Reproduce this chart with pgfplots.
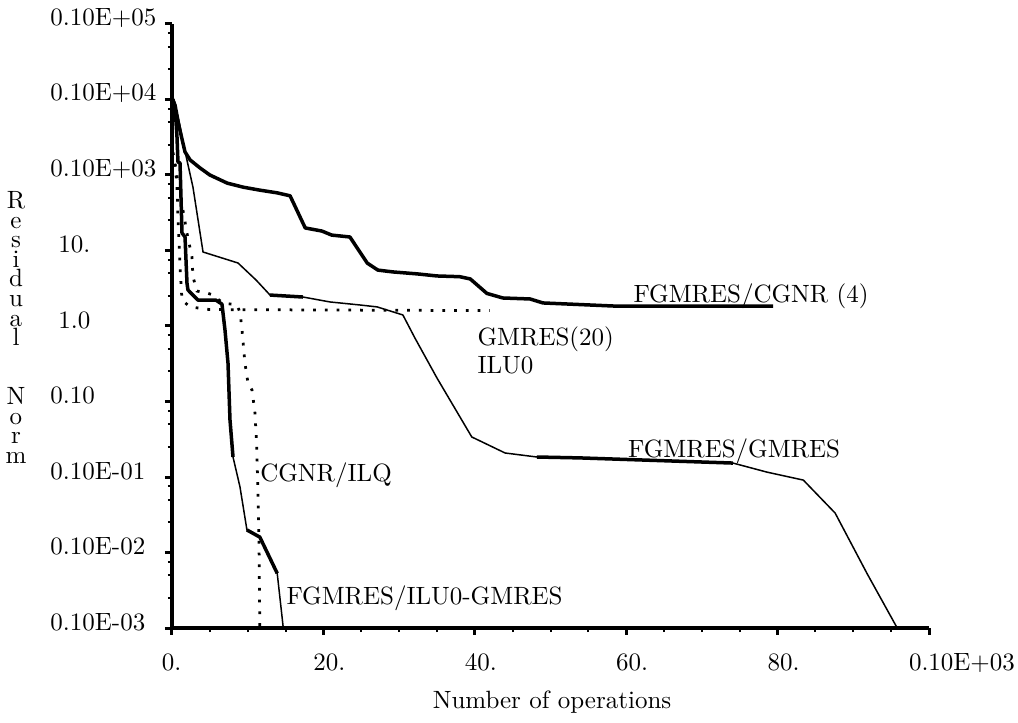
\documentclass[border=0pt]{standalone}
\usepackage{pgfplots}
\pgfplotsset{compat=1.18}
\pgfplotstableread{
x y
0.1 1000
1.72 202
2.4 158
3.7 124
5.0 100
7.3 78
9.4 69
11.6 63
13.9 58
15.6 53
17.6 19.9
19.8 18.1
21.1 16.0
23.5 15.1
25.8 6.8
27.2 5.5
29.2 5.2
32.4 4.9
35.0 4.6
38.0 4.5
39.4 4.2
41.6 2.7
43.7 2.35
47.3 2.28
49.0 2.02
58.3 1.84
79.4 1.84
}\cgnrfour
\pgfplotstableread{
x y
0.1 200
0.4 144
0.66 69
0.79 28
1.06 6.0
1.32 2.2
2.38 1.79
5.0 1.65
42.0 1.6
}\gmresilu
\pgfplotstableread{
x y
0.1 200
0.5 120
1.98 17
2.64 8.2
2.77 4.5
3.3 2.9
4.6 2.74
5.4 2.58
6.7 2.02
8.6 1.9
9.0 1.49
9.25 0.885
9.64 0.32
10.04 0.176
10.57 0.142
10.96 0.0705
11.2 0.025
11.36 0.0054
11.5 0.0012
11.6 0.0001
}\cgnrilq
\pgfplotstableread{
x y
0.1 1000
0.4 796
0.66 318
0.79 149
1.06 144
1.32 17.1
1.72 15.1
1.98 3.7
2.11 3.0
3.43 2.2
5.8 2.2
6.6 1.95
7.0 0.885
7.4 0.32
7.66 0.057
8.06 0.0184
8.98 0.0074
9.9 0.00199
11.6 0.0016
13.9 0.00053
14.7 0.0001
}\iluzero
\pgfplotstableread{
x y
0.1 1000
0.4 796
0.66 318
0.79 149
1.06 144
1.32 17.1
1.72 15.1
1.98 3.7
2.11 3.0
3.43 2.2
5.8 2.2
6.6 1.95
7.0 0.885
7.4 0.32
7.66 0.057
8.06 0.0184
}\iluzeroA
\pgfplotstableread{
x y
9.9 0.00199
11.6 0.0016
13.9 0.00053
}\iluzeroB
\pgfplotstableread{
x y
0.09 1090
0.53 846
1.59 235
2.77 69
4.10 9.55
8.72 6.83
11.1 4.07
12.95 2.57
17.3 2.42
20.9 2.08
24.8 1.90
27.1 1.79
30.5 1.40
32.1 0.69
35.0 0.205
39.6 0.0339
44.0 0.0208
48.2 0.0184
53.9 0.0179
74.1 0.0153
78.6 0.0116
83.4 0.0091
87.6 0.00333
91.8 0.00053
95.8 0.0001
}\fgmres
\pgfplotstableread{
x y
12.95 2.57
17.3 2.42
}\fgmresA
\pgfplotstableread{
x y
48.2 0.0184
53.9 0.0179
74.1 0.0153
}\fgmresB
\begin{document}
\begin{tikzpicture}
\begin{axis}[
  at={(0,0)}, anchor=south west,
  scale only axis, width=302.8pt, height=241.6pt,
  ymode=log, xmin=0, xmax=100, ymin=1e-4, ymax=1e4,
  axis x line=bottom, axis y line=left,
  axis line style={line width=1.4pt, -},
  xtick={0,20,40,60,80,100},
  minor xtick={5,10,15,25,30,35,45,50,55,65,70,75,85,90,95},
  xticklabels={\makebox[0pt][l]{\hspace*{-4pt}0.},
               \makebox[0pt][l]{\hspace*{-4pt}20.},
               \makebox[0pt][l]{\hspace*{-4pt}40.},
               \makebox[0pt][l]{\hspace*{-4pt}60.},
               \makebox[0pt][l]{\hspace*{-4pt}80.},
               \makebox[0pt][l]{\hspace*{-8pt}0.10E+03}},
  ytick={1e-4,1e-3,1e-2,1e-1,1,10,100,1000,10000},
  minor ytick={2.5e-4,5e-4,7.5e-4,2.5e-3,5e-3,7.5e-3,2.5e-2,5e-2,7.5e-2,
               0.25,0.5,0.75,2.5,5,7.5,25,50,75,250,500,750,2500,5000,7500},
  yticklabels={0.10E-03,0.10E-02,0.10E-01,0.10,\hspace*{3.2pt}1.0,\hspace*{3.2pt}10.,0.10E+03,0.10E+04,0.10E+05},
  xticklabel style={anchor=north, inner sep=0pt, yshift=-7.4pt},
  yticklabel style={anchor=west, inner sep=0pt, xshift=-46pt, yshift=2.4pt},
  tick align=outside,
  major tick length=2.8pt, minor tick length=1.6pt,
  every major tick/.append style={line width=1.2pt, black},
  every minor tick/.append style={line width=0.8pt, black},
  clip=false,
]
% FGMRES/CGNR (4)
\addplot[line width=1.4pt, black, line join=round] table {\cgnrfour};
% GMRES(20) ILU0
\addplot[line width=1.1pt, black, dash pattern=on 1.1pt off 3.6pt] table {\gmresilu};
% CGNR/ILQ
\addplot[line width=1.1pt, black, dash pattern=on 1.1pt off 3.6pt] table {\cgnrilq};
% FGMRES/ILU0-GMRES
\addplot[line width=0.6pt, black] table {\iluzero};
\addplot[line width=1.4pt, black, line join=round] table {\iluzeroA};
\addplot[line width=1.4pt, black, line join=round] table {\iluzeroB};
% FGMRES/GMRES
\addplot[line width=0.6pt, black] table {\fgmres};
\addplot[line width=1.4pt, black] table {\fgmresA};
\addplot[line width=1.4pt, black] table {\fgmresB};

\node[anchor=base west, inner sep=0pt] at (axis cs:60.9,2.02) {FGMRES/CGNR (4)};
\node[anchor=base west, inner sep=0pt] at (axis cs:40.3,0.56) {GMRES(20)};
\node[anchor=base west, inner sep=0pt] at (axis cs:40.3,0.238) {ILU0};
\node[anchor=base west, inner sep=0pt] at (axis cs:60.2,0.0184) {FGMRES/GMRES};
\node[anchor=base west, inner sep=0pt] at (axis cs:11.6,0.0086) {CGNR/ILQ};
\node[anchor=base west, inner sep=0pt] at (axis cs:15.06,0.000202) {FGMRES/ILU0-GMRES};
\end{axis}
\node[anchor=base, inner sep=0pt] at (152pt,-32.4pt) {Number of operations};
\foreach \c/\k in {R/0,e/1,s/2,i/3,d/4,u/5,a/6,l/7,N/10,o/11,r/12,m/13}
  \node[anchor=base, inner sep=0pt] at (-62.4pt,{167.8pt-\k*7.85pt}) {\c};
\path (-68.8pt,-38pt) rectangle (338.4pt,251.2pt);
\end{tikzpicture}
\end{document}
